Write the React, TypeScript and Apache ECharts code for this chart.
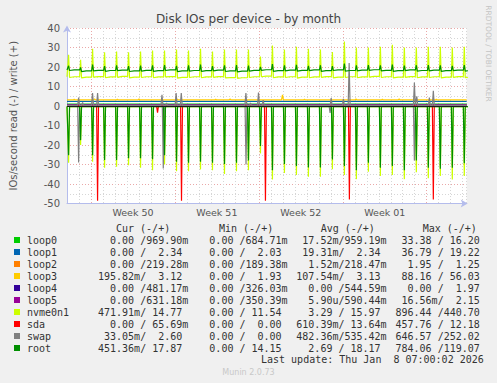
import React, { useEffect, useRef } from 'react';
import * as echarts from 'echarts';

// ---------- data ----------
const DEVICES = ['loop0', 'loop1', 'loop2', 'loop3', 'loop4', 'loop5', 'nvme0n1', 'sda', 'swap', 'root'];
const COLORS = ['#00cc00', '#0066b3', '#ff8000', '#ffcc00', '#330099', '#990099', '#ccff00', '#ff0000', '#808080', '#008f00'];

// x axis: days since Sat 6 Dec 2025 00:00; plot spans 400 px = 33.33 days
const DAY_SPAN = 400 / 12;
const SPIKE_DAY = 0.133; // daily job at ~03:10
const weekLabels = ['Week 50', 'Week 51', 'Week 52', 'Week 01'];
const weekCenters = [5.5, 12.5, 19.5, 26.5];

// flat levels (write +, read magnitude -)
const writeLevel = [0.96, 2.34, 0.22, 3.12, 0.48, 0.6, 0, 0.01, 0.3, 0];
const readLevel = [0.02, 0.02, 0.0, 0.1, 0.0, 0.0, 0.3, 0.0, 0.0, 0.3];

// daily spikes, one per day (34 days)
const nvmeWritePeak = [26.3, 23.7, 29.4, 27.5, 28, 27.5, 28, 28.5, 28.5, 29, 28.5, 29.4, 28, 29, 29, 29, 25.4, 31, 29, 30.4, 29.4, 29, 27.7, 33.1, 30, 30, 30.4, 31.4, 30, 30, 30.4, 30.4, 30, 30.4];
const nvmeWriteBase = [14.6, 14.4, 14.8, 14.5, 14.7, 14.4, 14.6, 14.5, 14.9, 14.3, 14.6, 14.5, 14.7, 14.4, 14.2, 14.6, 15.0, 14.5, 14.6, 14.3, 14.5, 14.7, 14.4, 14.6, 14.5, 14.8, 14.6, 14.4, 14.7, 14.5, 14.6, 14.4, 14.7, 14.5];
const nvmeWriteMid = [15.0, 14.8, 15.1, 14.9, 15.2, 14.8, 15.0, 14.9, 15.1, 14.7, 15.0, 14.9, 15.1, 14.6, 14.5, 15.0, 15.3, 14.9, 15.0, 14.8, 14.9, 15.1, 14.8, 15.0, 14.9, 15.2, 15.0, 14.8, 15.1, 14.9, 15.0, 14.8, 15.1, 14.9];
const rootWritePeak = [20.6, 19.8, 21.2, 20.5, 20.8, 20.4, 20.7, 20.9, 21.0, 20.6, 20.8, 21.2, 20.5, 20.9, 21.0, 20.7, 20.0, 21.5, 20.8, 21.1, 20.6, 20.9, 20.4, 21.8, 20.9, 21.0, 20.8, 21.2, 20.7, 20.9, 21.0, 20.8, 20.6, 21.0];
const rootWriteBase = [18.2, 17.6, 18.0, 17.8, 18.1, 17.7, 17.9, 17.8, 18.2, 17.6, 17.9, 17.8, 18.0, 17.7, 17.5, 17.9, 18.3, 17.8, 18.0, 17.9, 18.1, 17.8, 18.2, 17.9, 18.0, 18.3, 18.0, 17.8, 18.1, 17.9, 18.0, 17.8, 18.1, 17.9];
const rootWriteMid = [18.5, 18.0, 18.3, 18.2, 18.4, 18.0, 18.3, 18.1, 18.5, 18.0, 18.2, 18.1, 18.4, 18.0, 17.9, 18.3, 18.6, 18.1, 18.4, 18.3, 18.5, 18.1, 18.5, 18.2, 18.4, 18.6, 18.3, 18.1, 18.5, 18.2, 18.4, 18.1, 18.4, 18.2];
const nvmeReadPeak = [29.1, 20, 28.6, 31.7, 31.2, 30.4, 31.7, 32.9, 30, 33.4, 33.4, 32.5, 32.9, 34.9, 33.4, 32.9, 24.3, 37.7, 34.4, 35.4, 36.3, 36.3, 32.4, 35.4, 37.5, 33.7, 35.9, 35.4, 37.5, 34, 37, 35.9, 37.7, 35.9];
const rootReadPeak = [25.2, 17.5, 25.2, 27.7, 27.7, 26.8, 26.8, 27.3, 25.2, 28.6, 29.1, 28.6, 29.1, 29.8, 29.1, 28, 20.5, 32.9, 29.8, 30.8, 31.5, 31.5, 27.4, 30.8, 32.9, 29.1, 31.7, 30.8, 32.9, 28, 31.7, 32.2, 31.7, 29.4];

// occasional events [day, value]
const loop3WriteBumps: [number, number][] = [[0.6, 3.5], [2.3, 3.6], [4.2, 3.5], [6.0, 3.6], [9.2, 3.5], [12.4, 3.5], [13.6, 3.6], [17.97, 5.7], [19.8, 3.5], [24.1, 3.6], [26.3, 3.5], [27.7, 3.6], [30.8, 3.5]];
const swapWriteSpikes: [number, number][] = [[0.97, 4.3], [1.3, 1.8], [2.13, 6.6], [2.55, 6.6], [7.92, 5.7], [8.3, 1.5], [9.1, 6.6], [9.53, 6.6], [14.92, 6.6], [15.3, 1.6], [15.97, 6.9], [16.36, 3], [22.03, 4], [23.05, 3.7], [23.53, 22], [28.97, 12], [29.17, 5], [30.22, 4.3], [30.55, 7.8]];
const swapReadSpikes: [number, number][] = [[0.97, 29], [8.03, 32], [14.93, 30], [21.94, 3.5], [28.97, 28]];
const sdaReadSpikes: [number, number][] = [[2.55, 48.6], [7.55, 3.4], [9.55, 48.6], [16.55, 48.6], [23.55, 47.9], [30.55, 47.9]];

// legend table
const curVals = ['  0.00 /969.90m', '  0.00 /  2.34 ', '  0.00 /219.28m', '195.82m/  3.12 ', '  0.00 /481.17m', '  0.00 /631.18m', '471.91m/ 14.77 ', '  0.00 / 65.69m', ' 33.05m/  2.60 ', '451.36m/ 17.87 '];
const minVals = ['  0.00 /684.71m', '  0.00 /  2.03 ', '  0.00 /189.38m', '  0.00 /  1.93 ', '  0.00 /326.03m', '  0.00 /350.39m', '  0.00 / 11.54 ', '  0.00 /  0.00 ', '  0.00 /  0.00 ', '  0.00 / 14.15 '];
const avgVals = [' 17.52m/959.19m', ' 19.31m/  2.34 ', '  1.52m/218.47m', '107.54m/  3.13 ', '  0.00 /544.59m', '  5.90u/590.44m', '  3.29 / 15.97 ', '610.39m/ 13.64m', '482.36m/535.42m', '  2.69 / 18.17 '];
const maxVals = [' 33.38 / 16.20 ', ' 36.79 / 19.22 ', '  1.95 /  1.25 ', ' 88.16 / 56.03 ', '  0.00 /  1.97 ', ' 16.56m/  2.15 ', '896.44 /440.70 ', '457.76 / 12.18 ', '646.57 /252.02 ', '784.06 /119.07 '];
const colHeaders = ['Cur (-/+)', 'Min (-/+)', 'Avg (-/+)', 'Max (-/+)'];
const lastUpdate = 'Last update: Thu Jan  8 07:00:02 2026';

// ---------- helpers that turn the values into polyline points ----------
const W = 0.08;
function at(v: number | number[], k: number) {
  return Array.isArray(v) ? v[Math.min(k, v.length - 1)] : v;
}
function dailySeries(peaks: number[], base: number | number[], mid: number | number[], sign: number) {
  const pts: number[][] = [[0, sign * at(mid, 0)]];
  peaks.forEach((p, k) => {
    const t = k + SPIKE_DAY;
    const prev = k === 0 ? at(mid, 0) : at(mid, k - 1);
    pts.push([t - W, sign * prev], [t, sign * p], [t + W, sign * at(base, k)], [k + 0.6, sign * at(mid, k)]);
  });
  return pts;
}
function flatSeries(level: number, events: [number, number][], sign: number) {
  const pts: number[][] = [[0, sign * level]];
  events.forEach(([d, v]) => {
    pts.push([d - W, sign * level], [d, sign * v], [d + W, sign * level]);
  });
  pts.push([DAY_SPAN, sign * level]);
  return pts;
}

function seriesData(i: number, sign: number) {
  const name = DEVICES[i];
  if (sign > 0) {
    if (name === 'nvme0n1') return dailySeries(nvmeWritePeak, nvmeWriteBase, nvmeWriteMid, 1);
    if (name === 'root') return dailySeries(rootWritePeak, rootWriteBase, rootWriteMid, 1);
    if (name === 'loop3') return flatSeries(writeLevel[i], loop3WriteBumps, 1);
    if (name === 'swap') return flatSeries(writeLevel[i], swapWriteSpikes, 1);
    return flatSeries(writeLevel[i], [], 1);
  }
  if (name === 'nvme0n1') return dailySeries(nvmeReadPeak, readLevel[i], readLevel[i], -1);
  if (name === 'root') return dailySeries(rootReadPeak, readLevel[i], readLevel[i], -1);
  if (name === 'swap') return flatSeries(readLevel[i], swapReadSpikes, -1);
  if (name === 'sda') return flatSeries(readLevel[i], sdaReadSpikes, -1);
  return flatSeries(readLevel[i], [], -1);
}

const SANS = '"DejaVu Sans", sans-serif';
const MONO = '"DejaVu Sans Mono", monospace';
const MAJOR = '#eaa8a8';
const MINOR = '#d6d6d6';
const AXIS = '#b4bcec';

export default function App() {
  const ref = useRef<HTMLDivElement>(null);
  useEffect(() => {
    if (!ref.current) return;
    const chart = echarts.init(ref.current, null, { renderer: 'svg' });

    const series: any[] = [];
    DEVICES.forEach((name, i) => {
      [-1, 1].forEach((sign) => {
        series.push({
          name,
          type: 'line',
          xAxisIndex: 0,
          yAxisIndex: 0,
          showSymbol: false,
          symbol: 'none',
          color: COLORS[i],
          lineStyle: { width: 1.2, color: COLORS[i] },
          data: seriesData(i, sign),
          silent: true,
        });
      });
    });
    // zero rule drawn on top of everything
    series[series.length - 1].markLine = {
      silent: true,
      symbol: ['none', 'none'],
      label: { show: false },
      lineStyle: { color: '#1a1a1a', width: 1, type: 'solid' },
      data: [{ yAxis: 0 }],
    };

    const colX = [98, 197.3, 296.3, 395.5];
    const headX = [116, 219, 320.7, 422.7];
    const cols = [curVals, minVals, avgVals, maxVals];
    const graphic: any[] = [];
    colHeaders.forEach((h, j) => {
      graphic.push({
        type: 'text', x: headX[j], y: 228,
        style: { text: h, fill: '#333', font: `10px ${MONO}`, textAlign: 'left', textVerticalAlign: 'middle', verticalAlign: 'middle' },
      });
    });
    cols.forEach((c, j) => {
      graphic.push({
        type: 'text', x: colX[j], y: 234,
        style: { text: c.join('\n'), fill: '#333', font: `10px ${MONO}`, lineHeight: 12, textAlign: 'left', textVerticalAlign: 'top', verticalAlign: 'top' },
      });
    });
    graphic.push({
      type: 'text', x: 261, y: 359.5,
      style: { text: lastUpdate, fill: '#333', font: `10px ${MONO}`, textAlign: 'left', textVerticalAlign: 'middle', verticalAlign: 'middle' },
    });
    graphic.push({
      type: 'text', x: 248.5, y: 372.5,
      style: { text: 'Munin 2.0.73', fill: '#c8c8c8', font: `8px ${SANS}`, textAlign: 'center', textVerticalAlign: 'middle', verticalAlign: 'middle' },
    });
    graphic.push({
      type: 'text', x: 488, y: 53.5, rotation: -Math.PI / 2,
      style: { text: 'RRDTOOL / TOBI OETIKER', fill: '#c4c4c4', font: `7.5px ${SANS}`, textAlign: 'center', textVerticalAlign: 'middle', verticalAlign: 'middle' },
    });

    chart.setOption({
      animation: false,
      backgroundColor: '#f0f0f0',
      title: {
        text: 'Disk IOs per device - by month',
        left: 'center',
        top: 12.5,
        padding: 0,
        textStyle: { fontFamily: SANS, fontSize: 12, fontWeight: 'normal', color: '#444' },
      },
      grid: { left: 66.7, right: 30.3, top: 28, height: 175.5, show: true, backgroundColor: '#ffffff', borderWidth: 0 },
      xAxis: [
        {
          type: 'value', min: 0, max: DAY_SPAN, interval: 1,
          axisLine: { show: true, onZero: false, lineStyle: { color: AXIS, width: 1 }, symbol: ['none', 'arrow'], symbolSize: [6, 7], symbolOffset: [0, 1] },
          axisTick: { show: false },
          axisLabel: { show: false },
          splitLine: { show: true, lineStyle: { color: [MINOR, MINOR, MAJOR, MINOR, MINOR, MINOR, MINOR], type: [1, 2], width: 1 } },
        },
        {
          type: 'value', min: 0, max: DAY_SPAN, interval: 0.5, position: 'bottom',
          axisLine: { show: false, onZero: false },
          axisTick: { show: false },
          splitLine: { show: false },
          axisLabel: {
            show: true, margin: 4, fontFamily: SANS, fontSize: 9.5, color: '#555',
            formatter: (v: number) => {
              const i = weekCenters.findIndex((c) => Math.abs(c - v) < 1e-6);
              return i >= 0 ? weekLabels[i] : '';
            },
          },
        },
      ],
      yAxis: {
        type: 'value', min: -50, max: 40, interval: 5,
        name: 'IOs/second read (-) / write (+)',
        nameLocation: 'middle',
        nameGap: 49,
        nameTextStyle: { fontFamily: SANS, fontSize: 10, color: '#555' },
        axisLine: { show: true, onZero: false, lineStyle: { color: AXIS, width: 1 }, symbol: ['none', 'arrow'], symbolSize: [6, 7], symbolOffset: [0, 2.5] },
        axisTick: { show: false },
        axisLabel: {
          margin: 7, fontFamily: SANS, fontSize: 10, color: '#555',
          formatter: (v: number) => (v % 10 === 0 ? String(v) : ''),
        },
        splitLine: { show: true, lineStyle: { color: [MAJOR, MINOR], type: [1, 2], width: 1 } },
      },
      legend: {
        data: DEVICES,
        orient: 'vertical',
        left: 14,
        top: 234,
        padding: 0,
        itemWidth: 6,
        itemHeight: 6,
        itemGap: 0,
        icon: 'rect',
        selectedMode: false,
        textStyle: { fontFamily: MONO, fontSize: 10, color: '#333', lineHeight: 12, padding: [0, 0, 0, 2] },
      },
      graphic,
      series,
    });
    return () => chart.dispose();
  }, []);
  return <div ref={ref} style={{ position: 'fixed', left: 0, top: 0, width: 497, height: 383 }} />;
}
